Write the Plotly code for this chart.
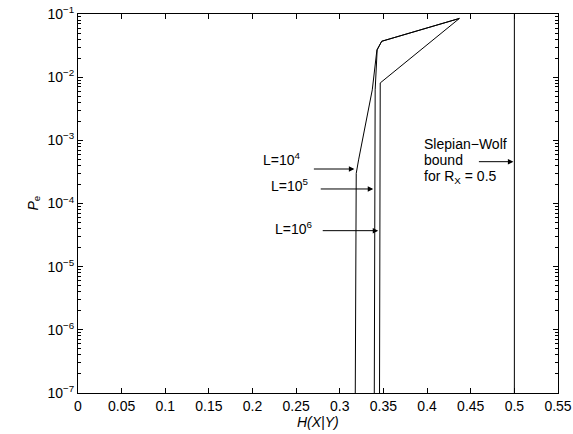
import plotly.graph_objects as go

# Data (H(X|Y) vs Pe)
h_L4 = [0.3177, 0.3188, 0.3215, 0.3250, 0.3300, 0.3372, 0.3425, 0.3480, 0.4370]
pe_L4 = [1e-7, 3.0e-4, 4.9e-4, 8.5e-4, 2.1e-3, 6.3e-3, 2.7e-2, 3.7e-2, 8.5e-2]

h_L5 = [0.3395, 0.3405, 0.3428, 0.3480, 0.4370]
pe_L5 = [1e-7, 6.3e-3, 2.7e-2, 3.7e-2, 8.5e-2]

h_L6 = [0.3455, 0.3463, 0.4370]
pe_L6 = [1e-7, 8.1e-3, 8.5e-2]

h_sw = [0.5, 0.5]
pe_sw = [1e-7, 1e-1]

x_ticks = [0, 0.05, 0.1, 0.15, 0.2, 0.25, 0.3, 0.35, 0.4, 0.45, 0.5, 0.55]
x_ticklabels = ["0", "0.05", "0.1", "0.15", "0.2", "0.25", "0.3", "0.35", "0.4", "0.45", "0.5", "0.55"]
y_exps = [-7, -6, -5, -4, -3, -2, -1]
y_ticklabels = ["10<sup>%d</sup>" % e if e >= 0 else "10<sup>\u2212%d</sup>" % (-e) for e in y_exps]

FONT = "Liberation Sans, Arial, Helvetica, sans-serif"
line = dict(color="black", width=1)

fig = go.Figure()
for hx, py in [(h_L4, pe_L4), (h_L5, pe_L5), (h_L6, pe_L6), (h_sw, pe_sw)]:
    fig.add_trace(go.Scatter(x=hx, y=py, mode="lines", line=line, showlegend=False, hoverinfo="skip"))

minor_y = [m * 10.0 ** e for e in range(-7, -1) for m in range(2, 10)]

fig.update_layout(
    width=573, height=434,
    margin=dict(l=78, r=15, t=14, b=41),
    paper_bgcolor="white", plot_bgcolor="white",
    font=dict(family=FONT, size=14, color="black"),
    showlegend=False,
)
fig.update_xaxes(
    range=[0, 0.55], tickvals=x_ticks, ticktext=x_ticklabels, automargin=False,
    ticks="inside", ticklen=5, tickcolor="black", tickwidth=1,
    showline=True, linecolor="black", linewidth=1, mirror="ticks",
    showgrid=False, zeroline=False,
)
fig.update_yaxes(
    type="log", range=[-7, -1], automargin=False,
    tickvals=[10.0 ** e for e in y_exps], ticktext=y_ticklabels,
    ticks="inside", ticklen=5, tickcolor="black", tickwidth=1,
    minor=dict(tickvals=minor_y, ticks="inside", ticklen=3, tickcolor="black", showgrid=False),
    showline=True, linecolor="black", linewidth=1, mirror="ticks",
    showgrid=False, zeroline=False,
)

arrow_common = dict(showarrow=True, arrowhead=2, arrowsize=1.1, arrowwidth=1, arrowcolor="black",
                    ay=0, text="", xref="x", yref="y", axref="pixel", ayref="pixel")
fig.add_annotation(x=0.3167, y=-3.454, ax=-42, **arrow_common)
fig.add_annotation(x=0.3383, y=-3.770, ax=-54, **arrow_common)
fig.add_annotation(x=0.3440, y=-4.430, ax=-57, **arrow_common)
fig.add_annotation(x=0.4989, y=-3.338, ax=-36, **arrow_common)

txt = dict(showarrow=False, xref="x", yref="y", xanchor="right", yanchor="middle", font=dict(size=14))
fig.add_annotation(x=0.2580, y=-3.30, text="L=10<sup>4</sup>", **txt)
fig.add_annotation(x=0.2668, y=-3.70, text="L=10<sup>5</sup>", **txt)
fig.add_annotation(x=0.2718, y=-4.38, text="L=10<sup>6</sup>", **txt)

sw = dict(showarrow=False, xref="x", yref="y", xanchor="left", yanchor="middle", font=dict(size=14))
fig.add_annotation(x=0.3945, y=-3.058, text="Slepian\u2212Wolf", **sw)
fig.add_annotation(x=0.3945, y=-3.311, text="bound", **sw)
fig.add_annotation(x=0.3945, y=-3.58, text="for R<sub>X</sub> = 0.5", **sw)

fig.add_annotation(x=0.5, y=0, xref="paper", yref="paper", yshift=-29, showarrow=False,
                   xanchor="center", yanchor="middle", text="<i>H(X|Y)</i>", font=dict(size=14))
fig.add_annotation(x=0, y=0.5, xref="paper", yref="paper", xshift=-45, showarrow=False,
                   xanchor="center", yanchor="middle", textangle=-90,
                   text="<i>P</i><sub>e</sub>", font=dict(size=14))

fig.write_html("out.html", config={"displayModeBar": False},
               post_script="document.body.style.margin='0';document.body.style.overflow='hidden';")
